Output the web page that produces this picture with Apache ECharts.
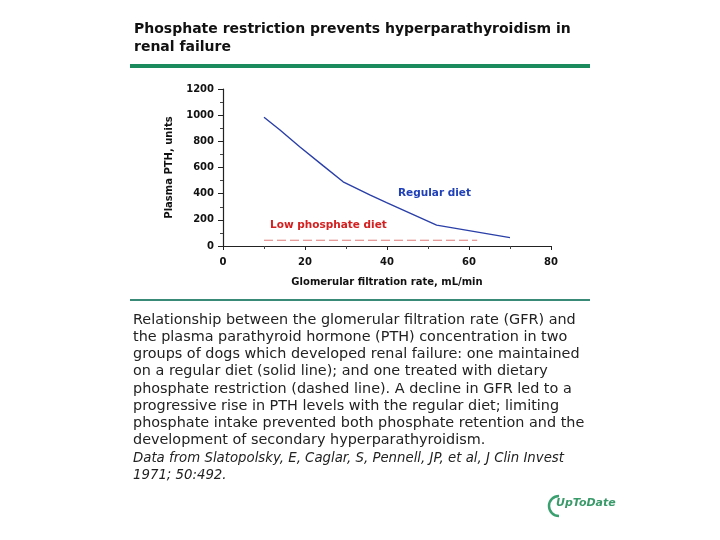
<!DOCTYPE html>
<html>
<head>
<meta charset="utf-8">
<script src="https://cdn.jsdelivr.net/npm/echarts@6/dist/echarts.min.js"></script>
<style>html,body{margin:0;padding:0;background:#fff}#c{width:720px;height:540px}</style>
</head>
<body>
<div id="c"></div>
<script>
// Data
var gfrRegular = [10, 13.9, 18.7, 24.4, 29.3, 35.8, 39.9, 52.1, 70];
var pthRegular = [984, 887, 759, 614, 491, 390, 331, 160, 64];
var gfrLow = [10, 62];
var pthLow = [44, 44];
var xTicks = [0, 20, 40, 60, 80];
var yTicks = [0, 200, 400, 600, 800, 1000, 1200];

var titleLines = ['Phosphate restriction prevents hyperparathyroidism in', 'renal failure'];
var captionLines = [
  'Relationship between the glomerular filtration rate (GFR) and',
  'the plasma parathyroid hormone (PTH) concentration in two',
  'groups of dogs which developed renal failure: one maintained',
  'on a regular diet (solid line); and one treated with dietary',
  'phosphate restriction (dashed line). A decline in GFR led to a',
  'progressive rise in PTH levels with the regular diet; limiting',
  'phosphate intake prevented both phosphate retention and the',
  'development of secondary hyperparathyroidism.'
];
var sourceLines = ['Data from Slatopolsky, E, Caglar, S, Pennell, JP, et al, J Clin Invest', '1971; 50:492.'];

function zip(a, b) { return a.map(function (v, i) { return [v, b[i]]; }); }

var FF = '"DejaVu Sans", Verdana, sans-serif';
var graphics = [];
titleLines.forEach(function (t, i) {
  graphics.push({ type: 'text', left: 134, top: 22 + i * 18,
    style: { text: t, font: 'bold 14px ' + FF, fill: '#111' } });
});
graphics.push({ type: 'rect', shape: { x: 130, y: 64, width: 460, height: 4 }, style: { fill: '#1b8a5c' } });
graphics.push({ type: 'rect', shape: { x: 130, y: 299, width: 460, height: 2 }, style: { fill: '#3a8a78' } });
captionLines.forEach(function (t, i) {
  graphics.push({ type: 'text', left: 133, top: 313 + i * 17.2,
    style: { text: t, font: '14.4px ' + FF, fill: '#222' } });
});
sourceLines.forEach(function (t, i) {
  graphics.push({ type: 'text', left: 133, top: 452 + i * 17,
    style: { text: t, font: 'italic 13.3px ' + FF, fill: '#222' } });
});
graphics.push({ type: 'text', left: 270, top: 220,
  style: { text: 'Low phosphate diet', font: 'bold 10.5px ' + FF, fill: '#d42020' } });
graphics.push({ type: 'text', left: 398, top: 188,
  style: { text: 'Regular diet', font: 'bold 10.5px ' + FF, fill: '#2040b8' } });
// UpToDate logo
graphics.push({ type: 'arc', shape: { cx: 559, cy: 506, r: 10, startAngle: Math.PI * 0.5, endAngle: Math.PI * 1.5 },
  style: { stroke: '#3aa070', lineWidth: 2.5, fill: null } });
graphics.push({ type: 'text', left: 556, top: 498,
  style: { text: 'UpToDate', font: 'italic bold 11px ' + FF, fill: '#3a9a6a' } });

var axisFont = { fontFamily: FF, fontWeight: 'bold', fontSize: 10, color: '#111' };

var option = {
  animation: false,
  backgroundColor: '#fff',
  grid: { left: 223, right: 169, top: 89, bottom: 294 },
  xAxis: {
    type: 'value', min: 0, max: 80, interval: 20,
    name: 'Glomerular filtration rate, mL/min', nameLocation: 'middle', nameGap: 31,
    nameTextStyle: axisFont,
    axisLine: { show: true, lineStyle: { color: '#222', width: 1.2 } },
    axisTick: { show: true, length: 4, lineStyle: { color: '#222' } },
    minorTick: { show: true, splitNumber: 2, length: 3, lineStyle: { color: '#444' } },
    axisLabel: Object.assign({ margin: 11, formatter: function (v) { return String(v); } }, axisFont),
    splitLine: { show: false }
  },
  yAxis: {
    type: 'value', min: 0, max: 1200, interval: 200,
    name: 'Plasma PTH, units', nameLocation: 'middle', nameGap: 49,
    nameTextStyle: axisFont,
    axisLine: { show: true, lineStyle: { color: '#222', width: 1.2 } },
    axisTick: { show: true, length: 5, lineStyle: { color: '#222' } },
    minorTick: { show: true, splitNumber: 2, length: 3, lineStyle: { color: '#444' } },
    axisLabel: Object.assign({ margin: 9, formatter: function (v) { return String(v); } }, axisFont),
    splitLine: { show: false }
  },
  series: [
    { type: 'line', name: 'Regular diet', data: zip(gfrRegular, pthRegular), showSymbol: false,
      lineStyle: { color: '#2a3fa8', width: 1.4 } },
    { type: 'line', name: 'Low phosphate diet', data: zip(gfrLow, pthLow), showSymbol: false,
      lineStyle: { color: '#e07a7a', width: 1, type: [9, 4] } }
  ],
  graphic: graphics
};
echarts.init(document.getElementById('c')).setOption(option);
</script>
</body>
</html>
